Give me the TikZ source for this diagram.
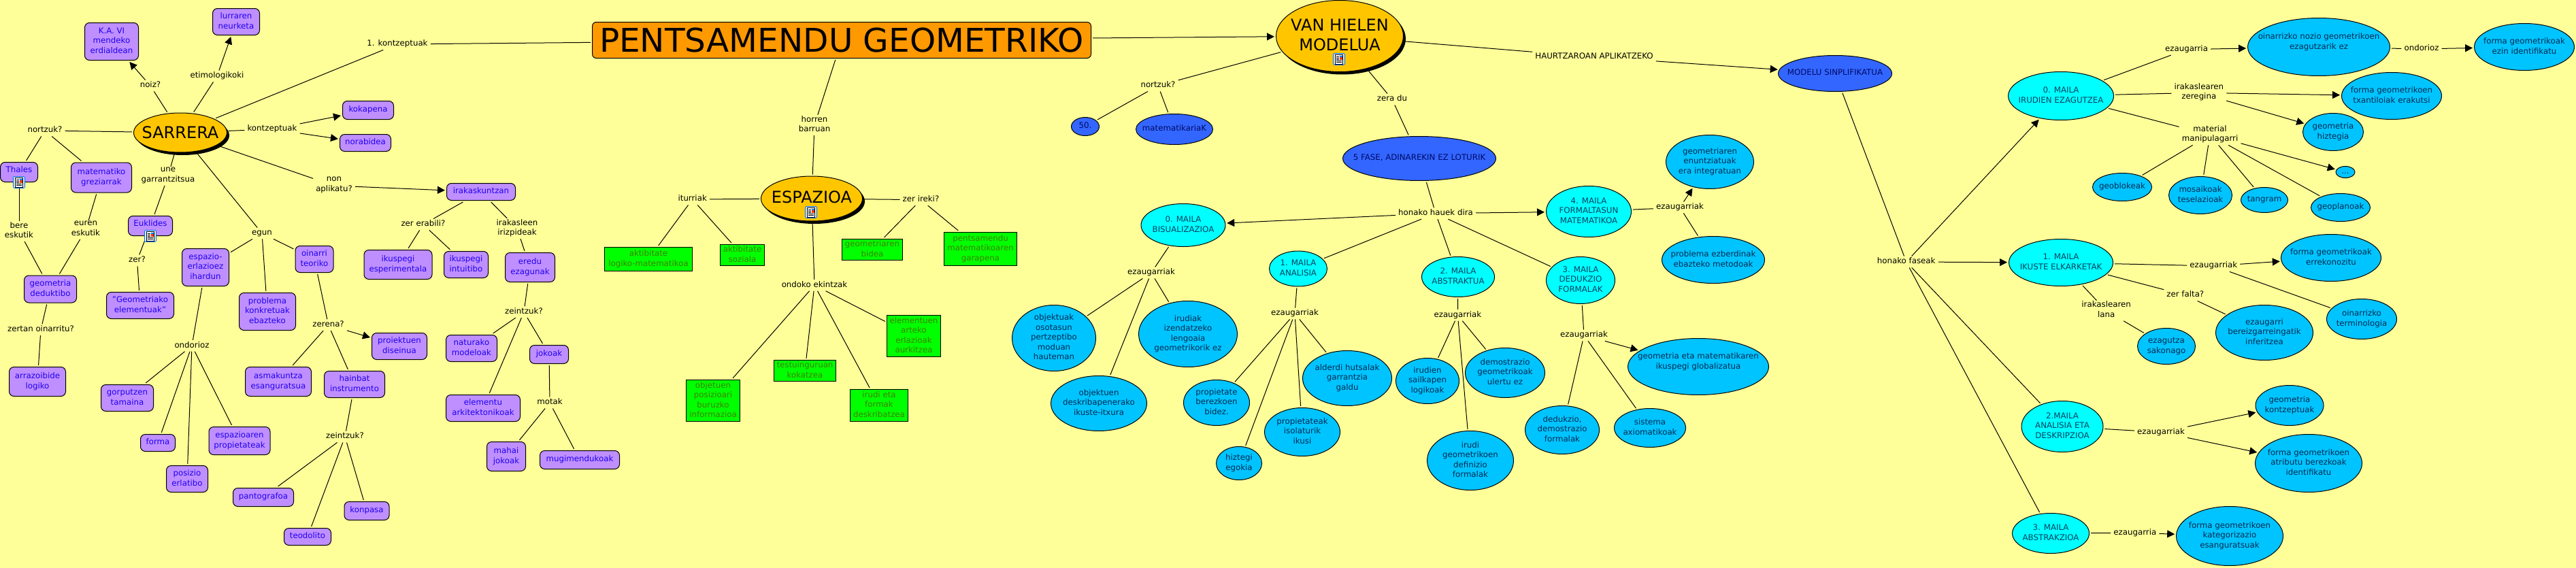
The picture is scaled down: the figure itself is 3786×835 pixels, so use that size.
\documentclass[tikz,border=0pt]{standalone}
\usepackage{fontspec}
\setmainfont{DejaVu Sans}
\newfontfamily\ttlfont[FakeStretch=1.011]{DejaVu Sans}
\usetikzlibrary{shapes.geometric,shadows,arrows.meta}
\definecolor{bg}{HTML}{FFFF99}
\definecolor{viol}{HTML}{BF8FFF}
\definecolor{violtx}{HTML}{2000F0}
\definecolor{grn}{HTML}{00FF00}
\definecolor{grntx}{HTML}{408000}
\definecolor{blu}{HTML}{3366FF}
\definecolor{blutx}{HTML}{000A66}
\definecolor{cya}{HTML}{00FFFF}
\definecolor{cyatx}{HTML}{004060}
\definecolor{sky}{HTML}{00C4FF}
\definecolor{skytx}{HTML}{002A50}
\definecolor{gold}{HTML}{FFC600}
\definecolor{orng}{HTML}{FF9900}
\newcommand\zt[2][0pt]{\sbox0{\begin{tabular}{@{}c@{}}#2\end{tabular}}\makebox[0pt]{\raisebox{\dimexpr(\dp0-\ht0)/2+#1\relax}[0pt][0pt]{\usebox0}}}
\newcommand\docicon[2]{\begin{scope}[shift={(#1,#2)}]
 \filldraw[draw=black!10!blue!60!cyan,fill=cyan!15,line width=.8pt,rounded corners=2pt] (-8.5,-8.5) rectangle (8.5,8.5);
 \filldraw[draw=black,fill=white,line width=.5pt] (-5.5,-7) rectangle (5.5,7);
 \draw[line width=.7pt] (-4,-4) -- (-.5,-4) (-4,-2) -- (-.5,-2) (-4,0) -- (-.5,0) (-4,2) -- (4,2) (-4,4) -- (4,4);
 \fill[blue!50!cyan] (.5,-5.5) rectangle (4.5,-3);
 \fill[red!60!orange] (.5,-3) rectangle (4.5,.5);
\end{scope}}
\tikzset{
 wh/.style 2 args={minimum width=#1pt,minimum height=#2pt},
 con/.style={draw=black,line width=1pt,inner sep=0pt,outer sep=2.5pt,font=\fontsize{11.8}{14.5}\selectfont},
 vio/.style={con,fill=viol,text=violtx,rounded corners=7pt},
 gre/.style={con,fill=grn,text=grntx},
 bel/.style={con,ellipse,fill=blu,text=blutx},
 cel/.style={con,ellipse,fill=cya,text=cyatx},
 sel/.style={con,ellipse,fill=sky,text=skytx},
 gld/.style={con,ellipse,fill=gold,text=black,font=\fontsize{24}{29}\selectfont,general shadow={fill=black,shadow xshift=3.5pt,shadow yshift=-4pt}},
 ttl/.style={con,fill=orng,text=black,rounded corners=6pt,font=\ttlfont\fontsize{48}{58}\selectfont},
 lbl/.style={inner xsep=4pt,inner ysep=1pt,align=center,font=\fontsize{11.8}{14.5}\selectfont,execute at begin node=\strut,execute at end node=\strut},
 lk/.style={draw=black,line width=1pt},
 ar/.style={lk,-{Triangle[length=11pt,width=11pt]}}
}
\begin{document}
\begin{tikzpicture}[x=1pt,y=-1pt]
\fill[bg,use as bounding box] (0,0) rectangle (3786,835);
% title and main concepts
\node[ttl,wh={733}{53}] (tit) at (1237,59) {\zt[-6pt]{PENTSAMENDU GEOMETRIKO}};
\node[gld,wh={137}{58}] (sar) at (265,195) {\zt[-3pt]{SARRERA}};
\node[gld,wh={149}{66}] (espa) at (1193,292) {\zt[-1pt]{ESPAZIOA}};
\node[gld,wh={187}{105}] (van) at (1969,53) {\zt[-1.3pt]{VAN HIELEN\\MODELUA}};
% violet concepts
\node[vio,wh={79}{55}] (kav) at (164,61) {\zt{K.A. VI\\mendeko\\erdialdean}};
\node[vio,wh={69}{39}] (lur) at (347,32) {\zt{lurraren\\neurketa}};
\node[vio,wh={75}{27}] (koka) at (541,162) {\zt{kokapena}};
\node[vio,wh={75}{25}] (nora) at (537,210) {\zt{norabidea}};
\node[vio,wh={55}{29}] (tha) at (28,253) {\zt[2pt]{Thales}};
\node[vio,wh={89}{44}] (mat) at (149,261) {\zt{matematiko\\greziarrak}};
\node[vio,wh={65}{29}] (euk) at (221,332) {\zt[2pt]{Euklides}};
\node[vio,wh={69}{55}] (esp) at (302,393) {\zt{espazio-\\erlazioez\\ihardun}};
\node[vio,wh={56}{39}] (oin) at (462,381) {\zt{oinarri\\teoriko}};
\node[vio,wh={100}{43}] (ikes) at (585,389) {\zt{ikuspegi\\esperimentala}};
\node[vio,wh={77}{40}] (ged) at (74,425) {\zt{geometria\\deduktibo}};
\node[vio,wh={99}{39}] (geo) at (206,449) {\zt{"Geometriako\\elementuak"}};
\node[vio,wh={83}{55}] (prob) at (393,458) {\zt{problema\\konkretuak\\ebazteko}};
\node[vio,wh={81}{39}] (proi) at (587,509) {\zt{proiektuen\\diseinua}};
\node[vio,wh={97}{43}] (asm) at (409,561) {\zt{asmakuntza\\esanguratsua}};
\node[vio,wh={89}{39}] (hai) at (521,565) {\zt{hainbat\\instrumento}};
\node[vio,wh={83}{43}] (arr) at (55,561) {\zt{arrazoibide\\logiko}};
\node[vio,wh={77}{39}] (gor) at (187,585) {\zt{gorputzen\\tamaina}};
\node[vio,wh={51}{25}] (form) at (232,651) {\zt{forma}};
\node[vio,wh={90}{41}] (espr) at (352,648) {\zt{espazioaren\\propietateak}};
\node[vio,wh={61}{39}] (pos) at (275,704) {\zt{posizio\\erlatibo}};
\node[vio,wh={89}{27}] (pant) at (387,731) {\zt{pantografoa}};
\node[vio,wh={66}{27}] (konp) at (539,751) {\zt{konpasa}};
\node[vio,wh={69}{25}] (teo) at (452,789) {\zt{teodolito}};
\node[vio,wh={101}{25}] (irak) at (707,282) {\zt{irakaskuntzan}};
\node[vio,wh={65}{39}] (ikin) at (685,389) {\zt{ikuspegi\\intuitibo}};
\node[vio,wh={73}{43}] (ere) at (779,393) {\zt{eredu\\ezagunak}};
\node[vio,wh={75}{39}] (nat) at (693,512) {\zt{naturako\\modeloak}};
\node[vio,wh={57}{27}] (jok) at (807,521) {\zt{jokoak}};
\node[vio,wh={109}{39}] (ele) at (710,600) {\zt{elementu\\arkitektonikoak}};
\node[vio,wh={57}{43}] (mah) at (744,671) {\zt{mahai\\jokoak}};
\node[vio,wh={117}{27}] (mug) at (852,676) {\zt{mugimendukoak}};
% green concepts
\node[gre,wh={129}{35}] (akl) at (953,381) {\zt{aktibitate\\logiko-matematikoa}};
\node[gre,wh={65}{31}] (aks) at (1091,375) {\zt{aktibitate\\soziala}};
\node[gre,wh={89}{31}] (gbid) at (1282,367) {\zt{geometriaren\\bidea}};
\node[gre,wh={107}{49}] (pen) at (1441,366) {\zt{pentsamendu\\matematikoaren\\garapena}};
\node[gre,wh={79}{61}] (obj) at (1048,589) {\zt{objetuen\\posizioari\\buruzko\\informazioa}};
\node[gre,wh={91}{31}] (test) at (1183,545) {\zt{testuinguruan\\kokatzea}};
\node[gre,wh={85}{47}] (irf) at (1292,596) {\zt{irudi eta\\formak\\deskribatzea}};
\node[gre,wh={79}{61}] (elm) at (1343,494) {\zt{elementuen\\arteko\\erlazioak\\aurkitzea}};
% dark blue concepts
\node[bel,wh={41}{27}] (cin) at (1595,186) {\zt{50.}};
\node[bel,wh={113}{45}] (mtk) at (1726,190) {\zt{matematikariaK}};
\node[bel,wh={225}{65}] (fas) at (2086,233) {\zt{5 FASE, ADINAREKIN EZ LOTURIK}};
\node[bel,wh={167}{53}] (sin) at (2697,108) {\zt{MODELU SINPLIFIKATUA}};
% cyan concepts
\node[cel,wh={124}{63}] (a0) at (1739,331) {\zt{0. MAILA\\BISUALIZAZIOA}};
\node[cel,wh={85}{52}] (a1) at (1908,395) {\zt{1. MAILA\\ANALISIA}};
\node[cel,wh={107}{59}] (a2) at (2143,407) {\zt{2. MAILA\\ABSTRAKTUA}};
\node[cel,wh={101}{69}] (a3) at (2323,412) {\zt{3. MAILA\\DEDUKZIO\\FORMALAK}};
\node[cel,wh={125}{75}] (a4) at (2335,311) {\zt{4. MAILA\\FORMALTASUN\\MATEMATIKOA}};
\node[cel,wh={155}{71}] (b0) at (3029,141) {\zt{0. MAILA\\IRUDIEN EZAGUTZEA}};
\node[cel,wh={153}{69}] (b1) at (3029,386) {\zt{1. MAILA\\IKUSTE ELKARKETAK}};
\node[cel,wh={120}{75}] (b2) at (3031,627) {\zt{2.MAILA\\ANALISIA ETA\\DESKRIPZIOA}};
\node[cel,wh={113}{59}] (b3) at (3014,784) {\zt{3. MAILA\\ABSTRAKZIOA}};
% light blue concepts
\node[sel,wh={123}{97}] (s01) at (1549,497) {\zt{objektuak\\osotasun\\pertzeptibo\\moduan\\hauteman}};
\node[sel,wh={145}{97}] (s02) at (1746,491) {\zt{irudiak\\izendatzeko\\lengoaia\\geometrikorik ez}};
\node[sel,wh={141}{81}] (s03) at (1615,593) {\zt{objektuen\\deskribapenerako\\ikuste-itxura}};
\node[sel,wh={97}{67}] (s11) at (1788,592) {\zt{propietate\\berezkoen\\bidez.}};
\node[sel,wh={67}{49}] (s12) at (1821,681) {\zt{hiztegi\\egokia}};
\node[sel,wh={111}{71}] (s13) at (1914,635) {\zt{propietateak\\isolaturik\\ikusi}};
\node[sel,wh={131}{81}] (s14) at (1980,556) {\zt{alderdi hutsalak\\garrantzia\\galdu}};
\node[sel,wh={93}{67}] (s21) at (2098,560) {\zt{irudien\\sailkapen\\logikoak}};
\node[sel,wh={117}{73}] (s22) at (2212,548) {\zt{demostrazio\\geometrikoak\\ulertu ez}};
\node[sel,wh={127}{87}] (s23) at (2161,677) {\zt{irudi\\geometrikoen\\definizio\\formalak}};
\node[sel,wh={109}{71}] (s31) at (2296,632) {\zt{dedukzio,\\demostrazio\\formalak}};
\node[sel,wh={105}{57}] (s32) at (2425,629) {\zt{sistema\\axiomatikoak}};
\node[sel,wh={207}{83}] (s33) at (2496,539) {\zt[7pt]{geometria eta matematikaren\\ikuspegi globalizatua}};
\node[sel,wh={151}{69}] (s41) at (2518,382) {\zt{problema ezberdinak\\ebazteko metodoak}};
\node[sel,wh={129}{79}] (s42) at (2513,238) {\zt{geometriaren\\enuntziatuak\\era integratuan}};
\node[sel,wh={209}{85}] (t1) at (3408,69) {\zt[7pt]{oinarrizko nozio geometrikoen\\ezagutzarik ez}};
\node[sel,wh={147}{69}] (t2) at (3710,69) {\zt{forma geometrikoak\\ezin identifikatu}};
\node[sel,wh={147}{69}] (t3) at (3515,141) {\zt{forma geometrikoen\\txantiloiak erakutsi}};
\node[sel,wh={89}{55}] (t4) at (3429,194) {\zt{geometria\\hiztegia}};
\node[sel,wh={28}{17}] (t5) at (3447,253) {\zt{...}};
\node[sel,wh={87}{41}] (t6) at (3119,275) {\zt{geoblokeak}};
\node[sel,wh={93}{55}] (t7) at (3234,287) {\zt{mosaikoak\\teselazioak}};
\node[sel,wh={69}{37}] (t8) at (3328,294) {\zt{tangram}};
\node[sel,wh={87}{41}] (t9) at (3440,305) {\zt{geoplanoak}};
\node[sel,wh={147}{69}] (u1) at (3426,379) {\zt{forma geometrikoak\\errekonozitu}};
\node[sel,wh={85}{53}] (u2) at (3184,509) {\zt{ezagutza\\sakonago}};
\node[sel,wh={143}{81}] (u3) at (3328,489) {\zt{ezaugarri\\bereizgarreingatik\\inferitzea}};
\node[sel,wh={103}{59}] (u4) at (3471,469) {\zt{oinarrizko\\terminologia}};
\node[sel,wh={100}{59}] (v1) at (3365,596) {\zt{geometria\\kontzeptuak}};
\node[sel,wh={157}{85}] (v2) at (3393,681) {\zt{forma geometrikoen\\atributu berezkoak\\identifikatu}};
\node[sel,wh={157}{87}] (w1) at (3277,788) {\zt{forma geometrikoen\\kategorizazio\\esanguratsuak}};
% link labels
\node[lbl] (l1) at (584,65) {1. kontzeptuak};
\node[lbl] (lnoiz) at (221,126) {noiz?};
\node[lbl] (leti) at (319,112) {etimologikoki};
\node[lbl] (lkon) at (400,190) {kontzeptuak};
\node[lbl] (lnor) at (66,192) {nortzuk?};
\node[lbl] (lune) at (247,259) {une\\garrantzitsua};
\node[lbl] (lnon) at (491,273) {non\\aplikatu?};
\node[lbl] (lbere) at (28,340) {bere\\eskutik};
\node[lbl] (leur) at (126,338) {euren\\eskutik};
\node[lbl] (lzer) at (201.5,383) {zer?};
\node[lbl] (legun) at (385,343) {egun};
\node[lbl] (lzera) at (622,330) {zer erabili?};
\node[lbl] (lzna) at (482.6,477.7) {zerena?};
\node[lbl] (lzto) at (60,484.7) {zertan oinarritu?};
\node[lbl] (lond) at (282,508.3) {ondorioz};
\node[lbl] (lzei) at (507,642) {zeintzuk?};
\node[lbl] (lirle) at (760,336) {irakasleen\\irizpideak};
\node[lbl] (lzei2) at (770,458.7) {zeintzuk?};
\node[lbl] (lmot) at (808,592) {motak};
\node[lbl] (litu) at (1017.7,293) {iturriak};
\node[lbl] (lhor) at (1197,184) {horren\\barruan};
\node[lbl] (lekin) at (1197,419.3) {ondoko ekintzak};
\node[lbl] (lzir) at (1353.5,293.7) {zer ireki?};
\node[lbl] (lnor2) at (1702,126) {nortzuk?};
\node[lbl] (lzdu) at (2046,146) {zera du};
\node[lbl] (lhau) at (2343,83.7) {HAURTZAROAN APLIKATZEKO};
\node[lbl] (lhon) at (2110,313.7) {honako hauek dira};
\node[lbl] (le0) at (1692,401) {ezaugarriak};
\node[lbl] (le1) at (1903,461) {ezaugarriak};
\node[lbl] (le2) at (2142.4,463.3) {ezaugarriak};
\node[lbl] (le3) at (2328,493) {ezaugarriak};
\node[lbl] (le4) at (2469,305) {ezaugarriak};
\node[lbl] (lfas) at (2801.7,385) {honako faseak};
\node[lbl] (lz0) at (3213.5,72.7) {ezaugarria};
\node[lbl] (lo0) at (3559,72) {ondorioz};
\node[lbl] (lzer0) at (3231.8,136.3) {irakaslearen\\zeregina};
\node[lbl] (lmat) at (3248,198.3) {material\\manipulagarri};
\node[lbl] (lz1) at (3253.3,391) {ezaugarriak};
\node[lbl] (lir1) at (3095.6,456.7) {irakaslearen\\lana};
\node[lbl] (lzf) at (3211.8,434) {zer falta?};
\node[lbl] (lz2) at (3176,635.3) {ezaugarriak};
\node[lbl] (lz3) at (3137.8,783.3) {ezaugarria};
% connectors
\draw[lk] (tit) -- (l1); \draw[lk] (l1) -- (sar);
\draw[ar] (tit) -- (van);
\draw[lk] (tit) -- (lhor); \draw[lk] (lhor) -- (espa);
\draw[lk] (sar) -- (lnoiz); \draw[ar] (lnoiz) -- (kav);
\draw[lk] (sar) -- (leti); \draw[ar] (leti) -- (lur);
\draw[lk] (sar) -- (lkon); \draw[ar] (lkon) -- (koka); \draw[ar] (lkon) -- (nora);
\draw[lk] (sar) -- (lnor); \draw[lk] (lnor) -- (tha); \draw[lk] (lnor) -- (mat);
\draw[lk] (sar) -- (lune); \draw[lk] (lune) -- (euk);
\draw[lk] (sar) -- (lnon); \draw[ar] (lnon) -- (irak);
\draw[lk] (sar) -- (legun); \draw[lk] (legun) -- (esp); \draw[lk] (legun) -- (prob); \draw[lk] (legun) -- (oin);
\draw[lk] (tha) -- (lbere); \draw[lk] (lbere) -- (ged);
\draw[lk] (mat) -- (leur); \draw[lk] (leur) -- (ged);
\draw[lk] (ged) -- (lzto); \draw[lk] (lzto) -- (arr);
\draw[lk] (euk) -- (lzer); \draw[lk] (lzer) -- (geo);
\draw[lk] (esp) -- (lond); \draw[lk] (lond) -- (gor); \draw[lk] (lond) -- (form); \draw[lk] (lond) -- (pos); \draw[lk] (lond) -- (espr);
\draw[lk] (oin) -- (lzna); \draw[lk] (lzna) -- (asm); \draw[lk] (lzna) -- (hai); \draw[ar] (lzna) -- (proi);
\draw[lk] (hai) -- (lzei); \draw[lk] (lzei) -- (pant); \draw[lk] (lzei) -- (teo); \draw[lk] (lzei) -- (konp);
\draw[lk] (irak) -- (lzera); \draw[lk] (lzera) -- (ikes); \draw[lk] (lzera) -- (ikin);
\draw[lk] (irak) -- (lirle); \draw[lk] (lirle) -- (ere);
\draw[lk] (ere) -- (lzei2); \draw[lk] (lzei2) -- (nat); \draw[lk] (lzei2) -- (ele); \draw[lk] (lzei2) -- (jok);
\draw[lk] (jok) -- (lmot); \draw[lk] (lmot) -- (mah); \draw[lk] (lmot) -- (mug);
\draw[lk] (espa) -- (litu); \draw[lk] (litu) -- (akl); \draw[lk] (litu) -- (aks);
\draw[lk] (espa) -- (lzir); \draw[lk] (lzir) -- (gbid); \draw[lk] (lzir) -- (pen);
\draw[lk] (espa) -- (lekin); \draw[lk] (lekin) -- (obj); \draw[lk] (lekin) -- (test); \draw[lk] (lekin) -- (irf); \draw[lk] (lekin) -- (elm);
\draw[lk] (van) -- (lnor2); \draw[lk] (lnor2) -- (cin); \draw[lk] (lnor2) -- (mtk);
\draw[lk] (van) -- (lzdu); \draw[lk] (lzdu) -- (fas);
\draw[lk] (van) -- (lhau); \draw[ar] (lhau) -- (sin);
\draw[lk] (fas) -- (lhon); \draw[ar] (lhon) -- (a0); \draw[lk] (lhon) -- (a1); \draw[lk] (lhon) -- (a2); \draw[lk] (lhon) -- (a3); \draw[ar] (lhon) -- (a4);
\draw[lk] (a0) -- (le0); \draw[lk] (le0) -- (s01); \draw[lk] (le0) -- (s02); \draw[lk] (le0) -- (s03);
\draw[lk] (a1) -- (le1); \draw[lk] (le1) -- (s11); \draw[lk] (le1) -- (s12); \draw[lk] (le1) -- (s13); \draw[lk] (le1) -- (s14);
\draw[lk] (a2) -- (le2); \draw[lk] (le2) -- (s21); \draw[lk] (le2) -- (s22); \draw[lk] (le2) -- (s23);
\draw[lk] (a3) -- (le3); \draw[lk] (le3) -- (s31); \draw[lk] (le3) -- (s32); \draw[ar] (le3) -- (s33);
\draw[lk] (a4) -- (le4); \draw[lk] (s41) -- (le4); \draw[ar] (le4) -- (s42);
\draw[lk] (sin) -- (lfas); \draw[ar] (lfas) -- (b0); \draw[ar] (lfas) -- (b1); \draw[lk] (lfas) -- (b2); \draw[lk] (lfas) -- (b3);
\draw[lk] (b0) -- (lz0); \draw[ar] (lz0) -- (t1); \draw[lk] (t1) -- (lo0); \draw[ar] (lo0) -- (t2);
\draw[lk] (b0) -- (lzer0); \draw[ar] (lzer0) -- (t3); \draw[ar] (lzer0) -- (t4);
\draw[lk] (b0) -- (lmat); \draw[lk] (lmat) -- (t6); \draw[lk] (lmat) -- (t7); \draw[lk] (lmat) -- (t8); \draw[lk] (lmat) -- (t9); \draw[ar] (lmat) -- (t5);
\draw[lk] (b1) -- (lz1); \draw[ar] (lz1) -- (u1); \draw[lk] (lz1) -- (u4);
\draw[lk] (b1) -- (lzf); \draw[lk] (lzf) -- (u3);
\draw[lk] (b1) -- (lir1); \draw[lk] (lir1) -- (u2);
\draw[lk] (b2) -- (lz2); \draw[ar] (lz2) -- (v1); \draw[ar] (lz2) -- (v2);
\draw[lk] (b3) -- (lz3); \draw[ar] (lz3) -- (w1);
% resource icons
\docicon{28}{268}
\docicon{221}{347}
\docicon{1192}{312}
\docicon{1968}{87}
\end{tikzpicture}
\end{document}
